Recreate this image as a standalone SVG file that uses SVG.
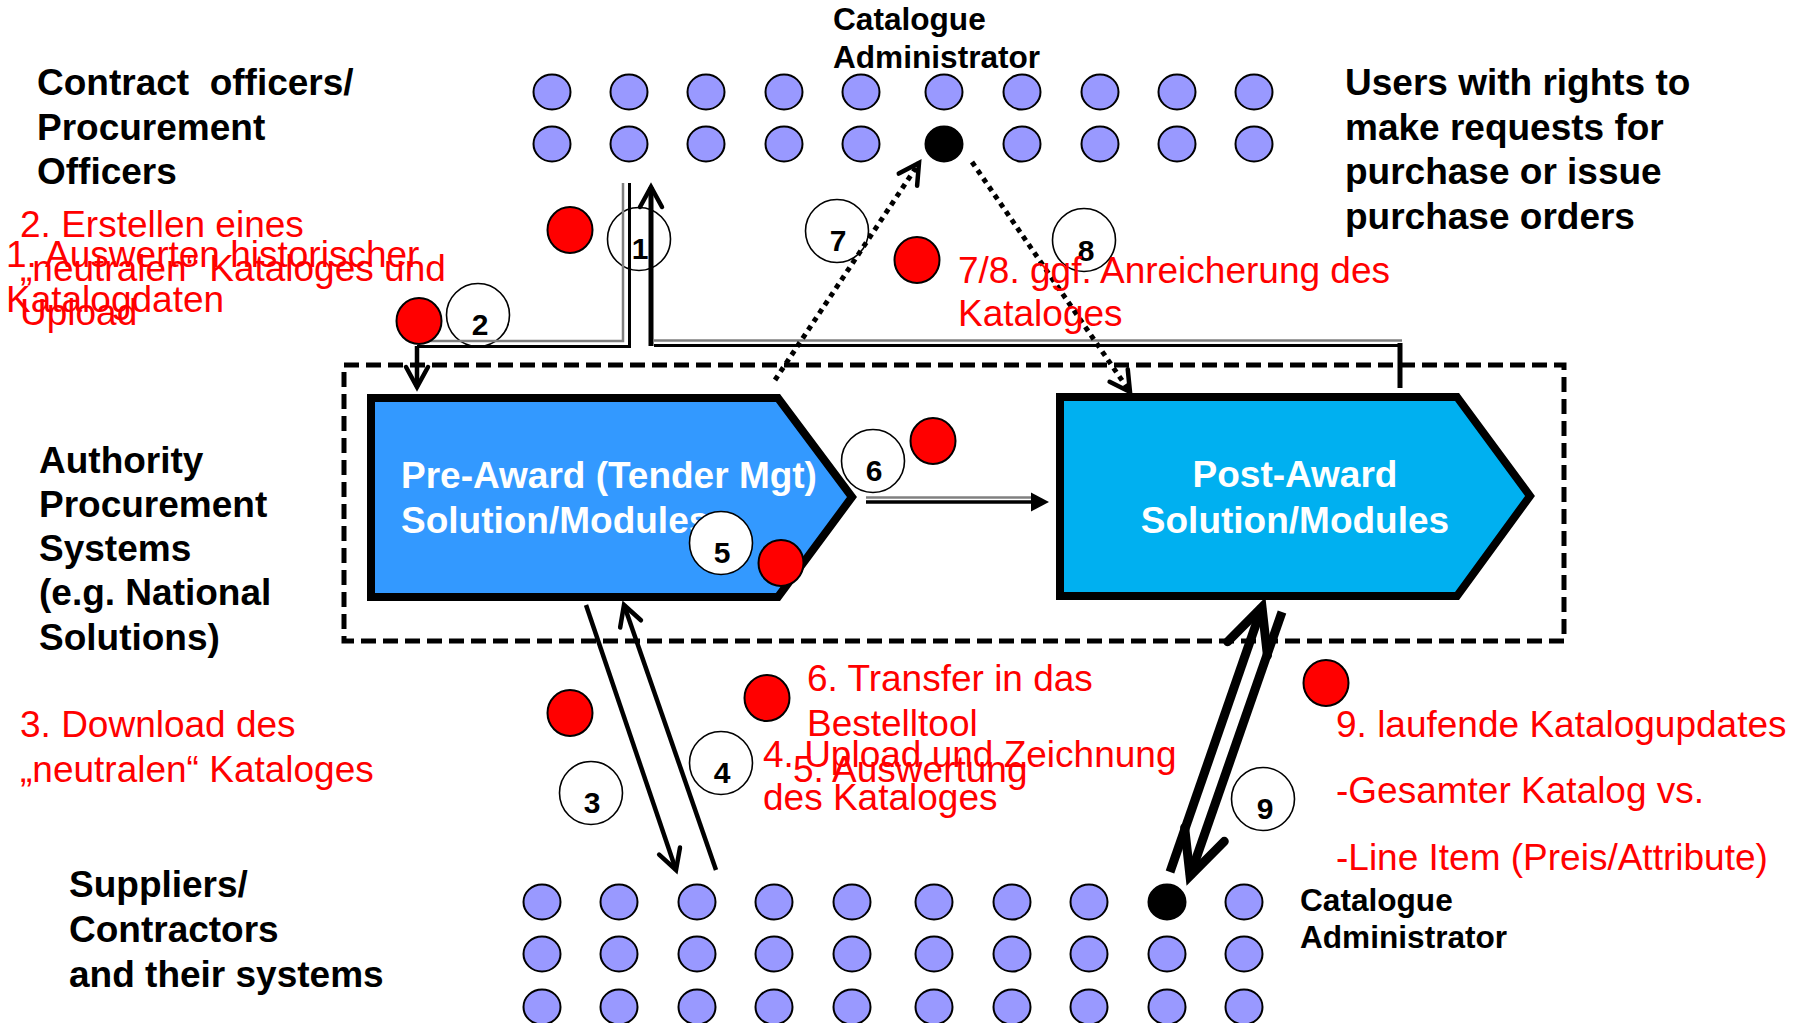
<svg xmlns="http://www.w3.org/2000/svg" width="1804" height="1023" viewBox="0 0 1804 1023">
<style>
text { font-family: "Liberation Sans", Arial, sans-serif; }
.lbl { font-weight: bold; font-size: 37px; fill: #000; }
.adm { font-weight: bold; font-size: 31.6px; fill: #000; }
.red { font-size: 37px; fill: #FF0000; }
.wht { font-weight: bold; font-size: 37px; fill: #FFFFFF; }
.num { font-weight: bold; font-size: 30px; fill: #000; text-anchor: middle; }
.dot { fill: #9999FF; stroke: #000; stroke-width: 2; }
.bdot { fill: #000; stroke: #000; stroke-width: 2; }
.rdot { fill: #FF0000; stroke: #000; stroke-width: 2; }
.nc { fill: #FFFFFF; stroke: #000; stroke-width: 1.6; }
.thin { fill: none; stroke: #000; stroke-width: 4.5; }
.thick { fill: none; stroke: #000; stroke-width: 9; }
.dotted { fill: none; stroke: #000; stroke-width: 5; stroke-dasharray: 5 5; }
.dblg { fill: none; stroke: #808080; stroke-width: 2.5; }
.dblb { fill: none; stroke: #000; stroke-width: 3; }
.shape { stroke: #000; stroke-width: 8; stroke-linejoin: miter; }
</style>
<defs>
<marker id="ah" markerUnits="userSpaceOnUse" viewBox="-30 -20 40 40" markerWidth="40" markerHeight="40" refX="0" refY="0" orient="auto" overflow="visible">
<path d="M-20,-11 L0,0 L-20,11" fill="none" stroke="#000" stroke-width="4.5" stroke-linecap="round"/>
</marker>
<marker id="ahT" markerUnits="userSpaceOnUse" viewBox="-60 -35 70 70" markerWidth="70" markerHeight="70" refX="0" refY="0" orient="auto" overflow="visible">
<path d="M-44,-21 L0,0 L-44,21" fill="none" stroke="#000" stroke-width="9" stroke-linecap="round"/>
</marker>
<marker id="tri" markerUnits="userSpaceOnUse" viewBox="-5 -12 30 24" markerWidth="30" markerHeight="24" refX="0" refY="0" orient="auto" overflow="visible">
<path d="M0,-9.5 L18,0 L0,9.5 Z" fill="#000"/>
</marker>
</defs>
<rect width="1804" height="1023" fill="#FFFFFF"/>

<g id="authority-systems-frame">
<rect x="344" y="365" width="1220" height="276" fill="none" stroke="#000" stroke-width="5" stroke-dasharray="15 7"/>
</g>

<g id="pre-award">
<path class="shape" d="M371,398 H778 L852,497 L778,597 H371 Z" fill="#3399FF"/>
<text class="wht" x="401" y="488">Pre-Award (Tender Mgt)</text>
<text class="wht" x="401" y="533">Solution/Modules</text>
</g>

<g id="post-award">
<path class="shape" d="M1060,397 H1457 L1530,496 L1457,596 H1060 Z" fill="#00B0F0"/>
<text class="wht" x="1295" y="487" text-anchor="middle">Post-Award</text>
<text class="wht" x="1295" y="533" text-anchor="middle">Solution/Modules</text>
</g>

<g id="step-numbers">
<g id="n1"><circle class="nc" cx="639" cy="239" r="31.5"/><text class="num" x="640" y="259">1</text></g>
<g id="n2"><circle class="nc" cx="478" cy="315" r="31.5"/><text class="num" x="480" y="335">2</text></g>
<g id="n3"><circle class="nc" cx="591" cy="793" r="31.5"/><text class="num" x="592" y="813">3</text></g>
<g id="n4"><circle class="nc" cx="721" cy="763" r="31.5"/><text class="num" x="722" y="783">4</text></g>
<g id="n5"><circle class="nc" cx="721" cy="543" r="31.5"/><text class="num" x="722" y="563">5</text></g>
<g id="n6"><circle class="nc" cx="873" cy="461" r="31.5"/><text class="num" x="874" y="481">6</text></g>
<g id="n7"><circle class="nc" cx="837" cy="231" r="31.5"/><text class="num" x="838" y="251">7</text></g>
<g id="n8"><circle class="nc" cx="1084" cy="240" r="31.5"/><text class="num" x="1086" y="261">8</text></g>
<g id="n9"><circle class="nc" cx="1263" cy="799" r="31.5"/><text class="num" x="1265" y="819">9</text></g>
</g>

<g id="connectors">
<!-- 2: contract officers to pre-award -->
<path class="dblg" d="M623,183 V341 H417"/>
<path class="dblb" d="M629.5,183 V346.5 H417"/>
<path class="thin" d="M417,346 V387" marker-end="url(#ah)"/>
<!-- 1: post-award to contract officers -->
<path class="dblg" d="M654,340.5 H1402"/>
<path class="dblb" d="M654,345.5 H1402"/>
<path fill="none" stroke="#000" stroke-width="5" d="M1400,343 V388"/>
<path fill="none" stroke="#000" stroke-width="5" d="M651,346 V187" marker-end="url(#ah)"/>
<!-- 7 / 8 dotted -->
<path class="dotted" d="M775,380 L919,163" marker-end="url(#ah)"/>
<path class="dotted" d="M972,162 L1130,392" marker-end="url(#ah)"/>
<!-- 6 transfer -->
<path class="dblg" d="M866,497.5 H1032"/>
<path fill="none" stroke="#000" stroke-width="3.5" d="M866,502 H1031" marker-end="url(#tri)"/>
<!-- 3 / 4 -->
<path class="thin" d="M586,605 L676,870" marker-end="url(#ah)"/>
<path class="thin" d="M716,870 L624,605" marker-end="url(#ah)"/>
<!-- 9 -->
<path class="thick" d="M1170,872 L1262,607" marker-end="url(#ahT)"/>
<path class="thick" d="M1282,612 L1190,876" marker-end="url(#ahT)"/>
</g>

<g id="contract-officers-users">
<ellipse class="dot" cx="552" cy="92" rx="18.5" ry="17.5"/><ellipse class="dot" cx="629" cy="92" rx="18.5" ry="17.5"/><ellipse class="dot" cx="706" cy="92" rx="18.5" ry="17.5"/><ellipse class="dot" cx="784" cy="92" rx="18.5" ry="17.5"/><ellipse class="dot" cx="861" cy="92" rx="18.5" ry="17.5"/><ellipse class="dot" cx="944" cy="92" rx="18.5" ry="17.5"/><ellipse class="dot" cx="1022" cy="92" rx="18.5" ry="17.5"/><ellipse class="dot" cx="1100" cy="92" rx="18.5" ry="17.5"/><ellipse class="dot" cx="1177" cy="92" rx="18.5" ry="17.5"/><ellipse class="dot" cx="1254" cy="92" rx="18.5" ry="17.5"/>
<ellipse class="dot" cx="552" cy="144" rx="18.5" ry="17.5"/><ellipse class="dot" cx="629" cy="144" rx="18.5" ry="17.5"/><ellipse class="dot" cx="706" cy="144" rx="18.5" ry="17.5"/><ellipse class="dot" cx="784" cy="144" rx="18.5" ry="17.5"/><ellipse class="dot" cx="861" cy="144" rx="18.5" ry="17.5"/><ellipse class="bdot" cx="944" cy="144" rx="18.5" ry="17.5"/><ellipse class="dot" cx="1022" cy="144" rx="18.5" ry="17.5"/><ellipse class="dot" cx="1100" cy="144" rx="18.5" ry="17.5"/><ellipse class="dot" cx="1177" cy="144" rx="18.5" ry="17.5"/><ellipse class="dot" cx="1254" cy="144" rx="18.5" ry="17.5"/>
</g>

<g id="suppliers">
<ellipse class="dot" cx="542" cy="902" rx="18.5" ry="17.5"/><ellipse class="dot" cx="619" cy="902" rx="18.5" ry="17.5"/><ellipse class="dot" cx="697" cy="902" rx="18.5" ry="17.5"/><ellipse class="dot" cx="774" cy="902" rx="18.5" ry="17.5"/><ellipse class="dot" cx="852" cy="902" rx="18.5" ry="17.5"/><ellipse class="dot" cx="934" cy="902" rx="18.5" ry="17.5"/><ellipse class="dot" cx="1012" cy="902" rx="18.5" ry="17.5"/><ellipse class="dot" cx="1089" cy="902" rx="18.5" ry="17.5"/><ellipse class="bdot" cx="1167" cy="902" rx="18.5" ry="17.5"/><ellipse class="dot" cx="1244" cy="902" rx="18.5" ry="17.5"/>
<ellipse class="dot" cx="542" cy="954" rx="18.5" ry="17.5"/><ellipse class="dot" cx="619" cy="954" rx="18.5" ry="17.5"/><ellipse class="dot" cx="697" cy="954" rx="18.5" ry="17.5"/><ellipse class="dot" cx="774" cy="954" rx="18.5" ry="17.5"/><ellipse class="dot" cx="852" cy="954" rx="18.5" ry="17.5"/><ellipse class="dot" cx="934" cy="954" rx="18.5" ry="17.5"/><ellipse class="dot" cx="1012" cy="954" rx="18.5" ry="17.5"/><ellipse class="dot" cx="1089" cy="954" rx="18.5" ry="17.5"/><ellipse class="dot" cx="1167" cy="954" rx="18.5" ry="17.5"/><ellipse class="dot" cx="1244" cy="954" rx="18.5" ry="17.5"/>
<ellipse class="dot" cx="542" cy="1007" rx="18.5" ry="17.5"/><ellipse class="dot" cx="619" cy="1007" rx="18.5" ry="17.5"/><ellipse class="dot" cx="697" cy="1007" rx="18.5" ry="17.5"/><ellipse class="dot" cx="774" cy="1007" rx="18.5" ry="17.5"/><ellipse class="dot" cx="852" cy="1007" rx="18.5" ry="17.5"/><ellipse class="dot" cx="934" cy="1007" rx="18.5" ry="17.5"/><ellipse class="dot" cx="1012" cy="1007" rx="18.5" ry="17.5"/><ellipse class="dot" cx="1089" cy="1007" rx="18.5" ry="17.5"/><ellipse class="dot" cx="1167" cy="1007" rx="18.5" ry="17.5"/><ellipse class="dot" cx="1244" cy="1007" rx="18.5" ry="17.5"/>
</g>

<g id="red-markers">
<ellipse class="rdot" cx="570" cy="230" rx="22.5" ry="23"/>
<ellipse class="rdot" cx="419" cy="321" rx="22.5" ry="23"/>
<ellipse class="rdot" cx="917" cy="260" rx="22.5" ry="23"/>
<ellipse class="rdot" cx="933" cy="441" rx="22.5" ry="23"/>
<ellipse class="rdot" cx="781" cy="563" rx="22.5" ry="23"/>
<ellipse class="rdot" cx="570" cy="713" rx="22.5" ry="23"/>
<ellipse class="rdot" cx="767" cy="698" rx="22.5" ry="23"/>
<ellipse class="rdot" cx="1326" cy="683" rx="22.5" ry="23"/>
</g>

<g id="labels">
<text class="lbl" x="37" y="95" xml:space="preserve">Contract  officers/</text>
<text class="lbl" x="37" y="140">Procurement</text>
<text class="lbl" x="37" y="184">Officers</text>
<text class="adm" x="833" y="30">Catalogue</text>
<text class="adm" x="833" y="68">Administrator</text>
<text class="lbl" x="1345" y="95">Users with rights to</text>
<text class="lbl" x="1345" y="140">make requests for</text>
<text class="lbl" x="1345" y="184">purchase or issue</text>
<text class="lbl" x="1345" y="229">purchase orders</text>
<text class="lbl" x="39" y="473">Authority</text>
<text class="lbl" x="39" y="517">Procurement</text>
<text class="lbl" x="39" y="561">Systems</text>
<text class="lbl" x="39" y="605">(e.g. National</text>
<text class="lbl" x="39" y="650">Solutions)</text>
<text class="lbl" x="69" y="897">Suppliers/</text>
<text class="lbl" x="69" y="942">Contractors</text>
<text class="lbl" x="69" y="987">and their systems</text>
<text class="adm" x="1300" y="911">Catalogue</text>
<text class="adm" x="1300" y="948">Administrator</text>
</g>

<g id="step-texts">
<text class="red" x="20" y="237">2. Erstellen eines</text>
<text class="red" x="20" y="281">„neutralen“ Kataloges und</text>
<text class="red" x="20" y="325">Upload</text>
<text class="red" x="6" y="267">1. Auswerten historischer</text>
<text class="red" x="6" y="312">Katalogdaten</text>
<text class="red" x="958" y="283">7/8. ggf. Anreicherung des</text>
<text class="red" x="958" y="326">Kataloges</text>
<text class="red" x="20" y="737">3. Download des</text>
<text class="red" x="20" y="782">„neutralen“ Kataloges</text>
<text class="red" x="807" y="691">6. Transfer in das</text>
<text class="red" x="807" y="736">Bestelltool</text>
<text class="red" x="763" y="767">4. Upload und Zeichnung</text>
<text class="red" x="763" y="810">des Kataloges</text>
<text class="red" x="793" y="782">5. Auswertung</text>
<text class="red" x="1336" y="737">9. laufende Katalogupdates</text>
<text class="red" x="1336" y="803">-Gesamter Katalog vs.</text>
<text class="red" x="1336" y="870">-Line Item (Preis/Attribute)</text>
</g>
</svg>
